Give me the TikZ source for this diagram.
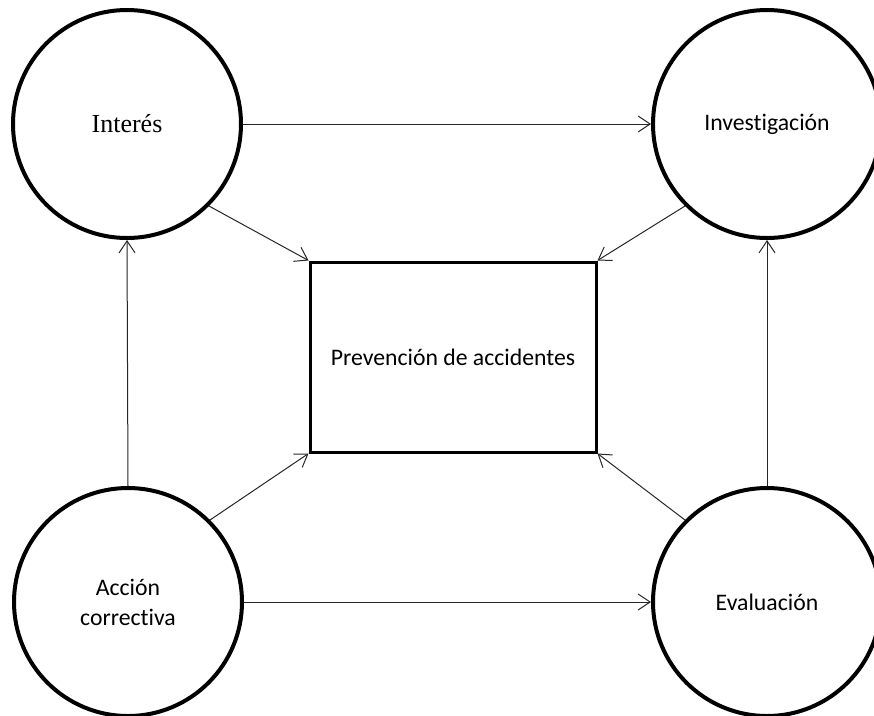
\documentclass[tikz,border=0pt]{standalone}
\usepackage{fontspec}
\setmainfont{Carlito}[RawFeature={-liga}]
\newfontfamily\titlefont{Liberation Serif}
\usetikzlibrary{arrows.meta}
\tikzset{
  stage/.style={circle,draw,line width=3pt,minimum size=171pt,inner sep=0pt,
    align=center,font=\fontsize{17.8}{22.5}\selectfont},
  goalbox/.style={rectangle,draw,line width=2.25pt,minimum width=214.5pt,
    minimum height=142.5pt,inner sep=0pt,font=\fontsize{17.8}{22.5}\selectfont},
  flow/.style={line width=0.75pt,draw=black!85,-{Straight Barb[length=9pt,width=12pt]}},
}
\begin{document}
\begin{tikzpicture}[x=0.75pt,y=-0.75pt]
	\useasboundingbox (0,0) rectangle (874,715);
	\node[stage] (int) at (127,124) {\titlefont\fontsize{19.5}{23}\selectfont Interés};
	\node[stage] (inv) at (767,124) {Investigación};
	\node[stage] (acc) at (128,602) {Acción\\correctiva};
	\node[stage] (eva) at (767,602) {Evaluación};
	\node[goalbox] (prev) at (453,357) {Prevención de accidentes};
	% cycle round the outside
	\draw[flow] (int.east) -- (inv.west);
	\draw[flow] (eva.north) -- (inv.south);
	\draw[flow] (acc.east) -- (eva.west);
	\draw[flow] (acc.north) -- (int.south);
	% every stage feeds the centre
	\draw[flow] (int.-45) -- (prev.north west);
	\draw[flow] (inv.-135) -- (prev.north east);
	\draw[flow] (acc.45) -- (prev.south west);
	\draw[flow] (eva.135) -- (prev.south east);
\end{tikzpicture}
\end{document}
